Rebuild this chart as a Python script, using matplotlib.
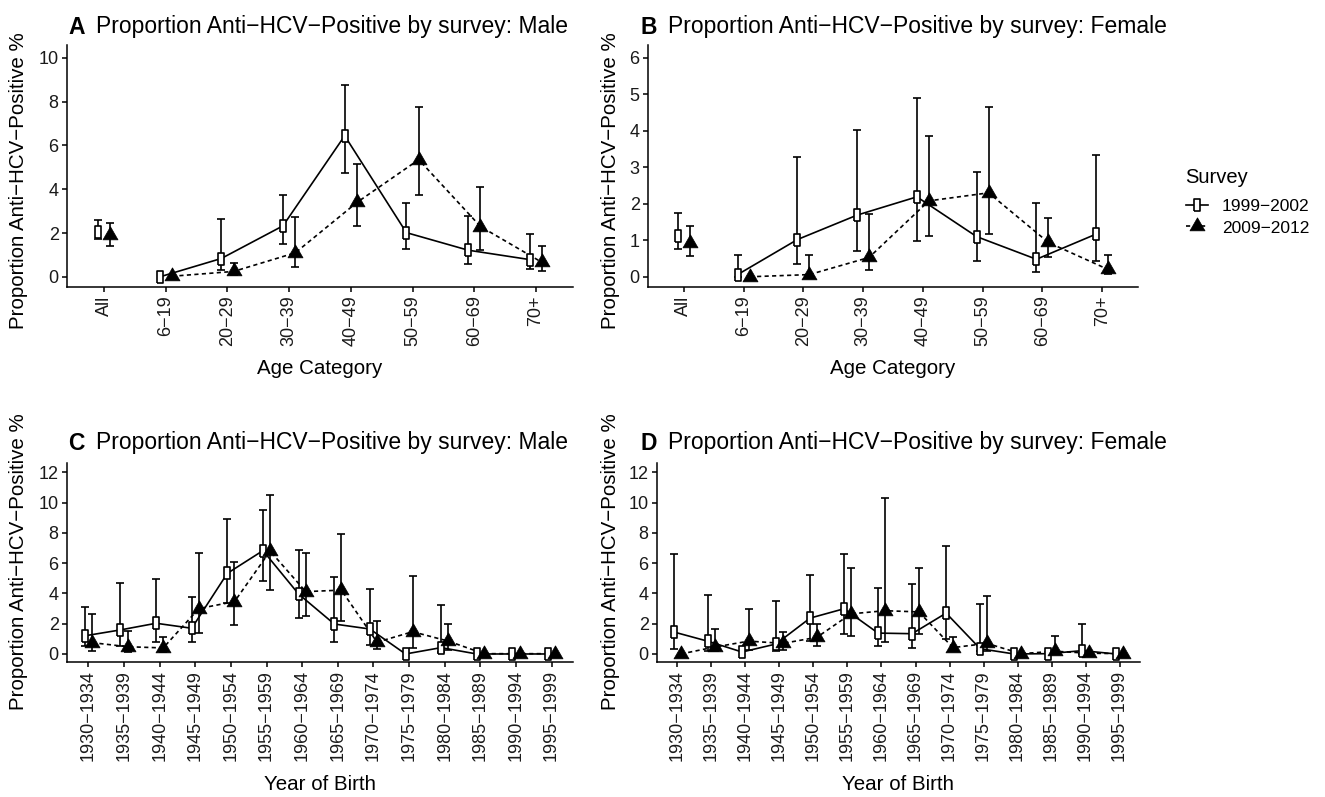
import numpy as np
import matplotlib.pyplot as plt
from matplotlib.lines import Line2D

plt.rcParams['font.family'] = ['Liberation Sans', 'DejaVu Sans']

nan = np.nan

# ---- data (percent anti-HCV positive, estimate + 95% CI) ----
age_cats = ["All", "6\u221219", "20\u221229", "30\u221239", "40\u221249",
            "50\u221259", "60\u221269", "70+"]
birth_cats = ["1930\u22121934", "1935\u22121939", "1940\u22121944", "1945\u22121949",
              "1950\u22121954", "1955\u22121959", "1960\u22121964", "1965\u22121969",
              "1970\u22121974", "1975\u22121979", "1980\u22121984", "1985\u22121989",
              "1990\u22121994", "1995\u22121999"]

# A: male by age
male_age_99 = [2.05, 0.0, 0.84, 2.33, 6.44, 2.02, 1.22, 0.79]
male_age_99_lo = [1.75, nan, 0.30, 1.51, 4.76, 1.29, 0.58, 0.37]
male_age_99_hi = [2.59, nan, 2.63, 3.73, 8.75, 3.38, 2.77, 1.96]
male_age_09 = [1.93, 0.03, 0.25, 1.10, 3.40, 5.35, 2.30, 0.66]
male_age_09_lo = [1.42, nan, 0.08, 0.43, 2.33, 3.73, 1.25, 0.27]
male_age_09_hi = [2.45, nan, 0.64, 2.72, 5.13, 7.76, 4.11, 1.42]

# B: female by age
fem_age_99 = [1.12, 0.06, 1.02, 1.69, 2.19, 1.10, 0.48, 1.17]
fem_age_99_lo = [0.77, 0.0, 0.35, 0.71, 0.97, 0.43, 0.14, 0.43]
fem_age_99_hi = [1.74, 0.59, 3.27, 4.02, 4.91, 2.86, 2.01, 3.35]
fem_age_09 = [0.92, 0.0, 0.06, 0.53, 2.08, 2.30, 0.94, 0.20]
fem_age_09_lo = [0.57, nan, 0.0, 0.18, 1.12, 1.16, 0.53, 0.07]
fem_age_09_hi = [1.39, nan, 0.59, 1.71, 3.86, 4.64, 1.61, 0.59]

# C: male by year of birth
male_yob_99 = [1.20, 1.59, 2.03, 1.70, 5.33, 6.83, 3.96, 1.98, 1.65, 0.0, 0.42, 0.0, 0.0, 0.0]
male_yob_99_lo = [0.50, 0.50, 0.81, 0.81, 3.40, 4.85, 2.36, 0.77, 0.60, nan, 0.15, nan, nan, nan]
male_yob_99_hi = [3.13, 4.67, 4.96, 3.79, 8.90, 9.50, 6.87, 5.07, 4.30, nan, 3.24, nan, nan, nan]
male_yob_09 = [0.75, 0.48, 0.40, 3.00, 3.46, 6.80, 4.12, 4.22, 0.78, 1.47, 0.85, 0.02, 0.02, 0.02]
male_yob_09_lo = [0.20, 0.15, 0.15, 1.37, 1.92, 4.23, 2.51, 2.20, 0.31, 0.42, 0.26, nan, nan, nan]
male_yob_09_hi = [2.62, 1.52, 1.15, 6.65, 6.10, 10.50, 6.70, 7.90, 2.18, 5.18, 1.98, nan, nan, nan]

# D: female by year of birth
fem_yob_99 = [1.45, 0.84, 0.13, 0.66, 2.37, 2.99, 1.38, 1.34, 2.70, 0.35, 0.0, 0.02, 0.22, 0.0]
fem_yob_99_lo = [0.33, 0.20, nan, 0.18, 0.84, 1.34, 0.51, 0.40, 1.00, 0.18, nan, nan, 0.0, nan]
fem_yob_99_hi = [6.59, 3.91, nan, 3.52, 5.19, 6.62, 4.35, 4.64, 7.16, 3.32, nan, nan, 2.00, nan]
fem_yob_09 = [0.0, 0.46, 0.85, 0.70, 1.10, 2.65, 2.86, 2.78, 0.42, 0.70, 0.02, 0.18, 0.05, 0.02]
fem_yob_09_lo = [nan, 0.18, 0.29, 0.29, 0.55, 1.21, 0.77, 1.32, 0.18, 0.18, nan, 0.0, nan, nan]
fem_yob_09_hi = [nan, 1.67, 2.99, 1.45, 2.00, 5.71, 10.29, 5.67, 1.10, 3.80, nan, 1.21, nan, nan]

surveys = ["1999\u22122002", "2009\u22122012"]

# markers: tall open rectangle and ggplot-style filled triangle
rect_marker = [(-0.42, -1), (0.42, -1), (0.42, 1), (-0.42, 1), (-0.42, -1)]
tri_marker = [(0, 0.577), (-0.5, -0.289), (0.5, -0.289), (0, 0.577)]

W, H = 1325, 797
fig = plt.figure(figsize=(W / 100, H / 100), dpi=100)


def px_axes(l, t, r, b):
    return fig.add_axes([l / W, 1 - b / H, (r - l) / W, (b - t) / H])


def draw_panel(ax, cats, s1, s2, first, ylim, yticks):
    x = np.arange(len(cats))
    dodge = 0.1
    styles = [dict(marker=rect_marker, ms=9, mfc='white', mec='black', mew=1.2, ls='-'),
              dict(marker=tri_marker, ms=12.5, mfc='black', mec='black', mew=0.5, ls=(0, (2.5, 2)))]
    for k, (est, lo, hi) in enumerate([s1, s2]):
        est = np.array(est)
        lo = np.array(lo)
        hi = np.array(hi)
        xs = x + (-dodge if k == 0 else dodge)
        ok = ~np.isnan(lo)
        ax.errorbar(xs[ok], est[ok], yerr=[est[ok] - lo[ok], hi[ok] - est[ok]],
                    fmt='none', ecolor='black', elinewidth=1.2, capsize=2.6,
                    capthick=1.2, zorder=2)
        st = styles[k]
        ax.plot(xs[first:], est[first:], color='black', lw=1.2, ls=st['ls'], zorder=3)
        ax.plot(xs, est, ls='none', marker=st['marker'], ms=st['ms'], mfc=st['mfc'],
                mec=st['mec'], mew=st['mew'], zorder=4)
    ax.set_xlim(-0.6, len(cats) - 0.4)
    ax.set_ylim(*ylim)
    ax.set_yticks(yticks)
    ax.set_xticks(x)
    ax.set_xticklabels(cats, rotation=90, va='top', ha='center')
    for s in ['top', 'right']:
        ax.spines[s].set_visible(False)
    for s in ['left', 'bottom']:
        ax.spines[s].set_linewidth(1.1)
    ax.tick_params(axis='both', length=3.5, width=1.1, color='black',
                   labelsize=13, labelcolor='#1a1a1a', pad=2.5)


axA = px_axes(67, 45, 573, 287)
axB = px_axes(648, 45, 1138, 287)
axC = px_axes(67, 463, 573, 662)
axD = px_axes(657, 463, 1140, 662)

draw_panel(axA, age_cats, (male_age_99, male_age_99_lo, male_age_99_hi),
           (male_age_09, male_age_09_lo, male_age_09_hi), 1, (-0.46, 10.58), range(0, 11, 2))
draw_panel(axB, age_cats, (fem_age_99, fem_age_99_lo, fem_age_99_hi),
           (fem_age_09, fem_age_09_lo, fem_age_09_hi), 1, (-0.28, 6.35), range(0, 7))
draw_panel(axC, birth_cats, (male_yob_99, male_yob_99_lo, male_yob_99_hi),
           (male_yob_09, male_yob_09_lo, male_yob_09_hi), 0, (-0.53, 12.62), range(0, 13, 2))
draw_panel(axD, birth_cats, (fem_yob_99, fem_yob_99_lo, fem_yob_99_hi),
           (fem_yob_09, fem_yob_09_lo, fem_yob_09_hi), 0, (-0.53, 12.62), range(0, 13, 2))

title_fs = 16.5
lab_fs = 14.8
ylab = "Proportion Anti\u2212HCV\u2212Positive %"
panels = [("A", "Male", 68, 27, 19, 181, "Age Category", 320, 369),
          ("B", "Female", 640, 27, 611, 181, "Age Category", 893, 369),
          ("C", "Male", 68, 443, 19, 562, "Year of Birth", 320, 785),
          ("D", "Female", 640, 443, 611, 562, "Year of Birth", 898, 785)]
for letter, sex, tx, ty, yx, yy, xl, xx, xy in panels:
    fig.text(tx / W, 1 - ty / H, letter, fontsize=title_fs, fontweight='bold',
             ha='left', va='center')
    fig.text((tx + 28) / W, 1 - ty / H,
             "Proportion Anti\u2212HCV\u2212Positive by survey: " + sex,
             fontsize=title_fs, ha='left', va='center')
    fig.text(yx / W, 1 - yy / H, ylab, rotation=90, fontsize=lab_fs,
             ha='center', va='center')
    fig.text(xx / W, 1 - xy / H, xl, fontsize=lab_fs, ha='center', va='center')

handles = [Line2D([], [], color='black', lw=1.2, ls='-', marker=rect_marker, ms=9,
                  mfc='white', mec='black', mew=1.2),
           Line2D([], [], color='black', lw=1.2, ls=(0, (2.5, 2)), marker=tri_marker, ms=12.5,
                  mfc='black', mec='black', mew=0.5)]
leg = fig.legend(handles, surveys, title="Survey", loc='upper left',
                 bbox_to_anchor=(1170 / W, 1 - 152 / H), frameon=False,
                 fontsize=12.5, title_fontsize=14.5, handlelength=1.3,
                 handletextpad=0.8, labelspacing=0.35)
leg._legend_box.align = 'left'
leg._legend_box.sep = 9

fig.savefig("out.png", dpi=100)
